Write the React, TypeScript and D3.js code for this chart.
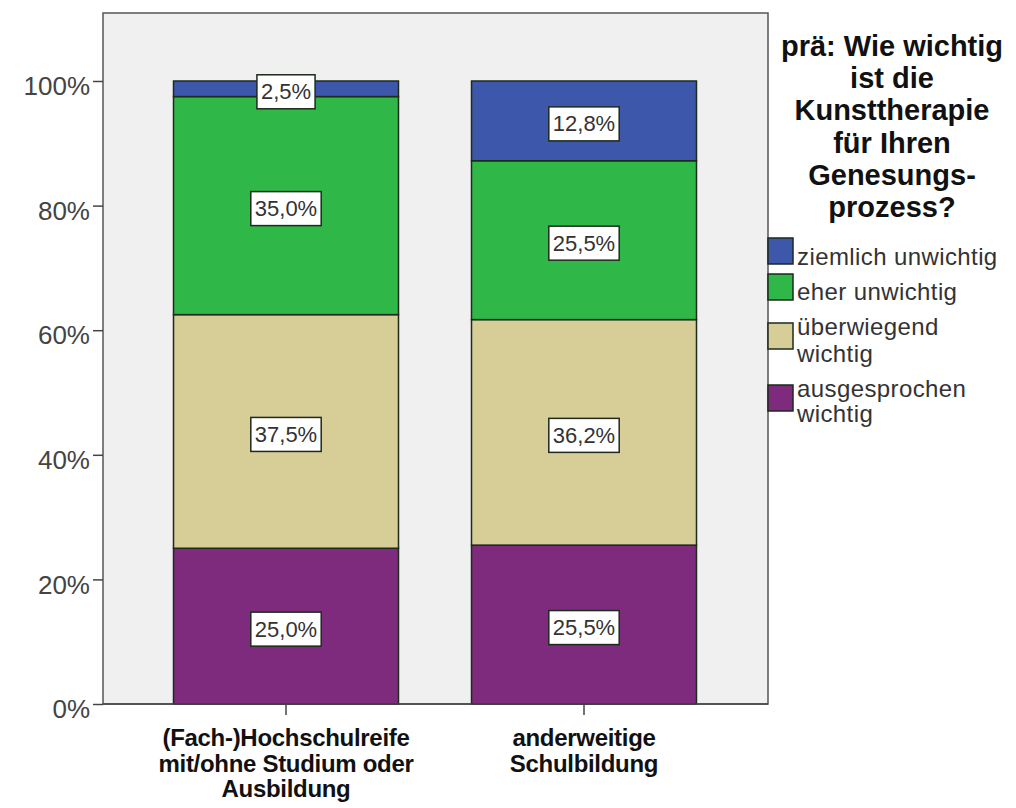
import React, { useEffect, useRef } from "react";
import * as d3 from "d3";

// categories on the x axis (each is a list of lines)
const groups = ["g1", "g2"];
const groupLabels = [
  ["(Fach-)Hochschulreife", "mit/ohne Studium oder", "Ausbildung"],
  ["anderweitige", "Schulbildung"],
];

// stack order bottom -> top
const seriesKeys = ["ausgesprochen", "ueberwiegend", "eher", "ziemlich"];
const seriesNames = [
  ["ausgesprochen", "wichtig"],
  ["überwiegend", "wichtig"],
  ["eher unwichtig"],
  ["ziemlich unwichtig"],
];
const seriesColors = ["#7e2a7d", "#d6cd97", "#2fb848", "#3d58ab"];

// percent values per group
const ausgesprochen = [25.0, 25.5];
const ueberwiegend = [37.5, 36.2];
const eher = [35.0, 25.5];
const ziemlich = [2.5, 12.8];

const yTicks = [0, 20, 40, 60, 80, 100];
const legendTitle = [
  "prä: Wie wichtig",
  "ist die",
  "Kunsttherapie",
  "für Ihren",
  "Genesungs-",
  "prozess?",
];

function App() {
  const svgRef = useRef<SVGSVGElement>(null);

  useEffect(() => {
    const width = 1016;
    const height = 808;
    const svg = d3.select(svgRef.current).attr("width", width).attr("height", height);
    svg.selectAll("*").remove();

    const left = 103, right = 768, top = 13, bottom = 704;
    const font = "'Liberation Sans', Arial, sans-serif";

    svg.append("rect").attr("width", width).attr("height", height).attr("fill", "#fff");

    // plot frame
    svg.append("rect")
      .attr("x", left).attr("y", top)
      .attr("width", right - left).attr("height", bottom - top)
      .attr("fill", "#f0f0f0")
      .attr("stroke", "#555").attr("stroke-width", 1.5);

    const x = d3.scaleBand<string>()
      .domain(groups)
      .range([137, 733])
      .paddingInner(0.245)
      .paddingOuter(0.1225);

    const y = d3.scaleLinear().domain([0, 100]).range([bottom, 81]);

    const rows = groups.map((g, i) => ({
      group: g,
      ausgesprochen: ausgesprochen[i],
      ueberwiegend: ueberwiegend[i],
      eher: eher[i],
      ziemlich: ziemlich[i],
    }));
    const stacked = d3.stack<any>().keys(seriesKeys)(rows);

    // bars
    stacked.forEach((layer, li) => {
      svg.append("g")
        .selectAll("rect")
        .data(layer)
        .join("rect")
        .attr("x", (d) => x(d.data.group)!)
        .attr("width", x.bandwidth())
        .attr("y", (d) => y(d[1]))
        .attr("height", (d) => y(d[0]) - y(d[1]))
        .attr("fill", seriesColors[li])
        .attr("stroke", "#1d2a1d")
        .attr("stroke-width", 1.5);
    });

    // value labels
    stacked.forEach((layer) => {
      layer.forEach((d) => {
        const v = d[1] - d[0];
        const txt = v.toFixed(1).replace(".", ",") + "%";
        const cx = x(d.data.group)! + x.bandwidth() / 2;
        const cy = (y(d[0]) + y(d[1])) / 2 + 3;
        const g = svg.append("g");
        const t = g.append("text")
          .attr("x", cx).attr("y", cy)
          .attr("text-anchor", "middle")
          .attr("dominant-baseline", "central")
          .attr("font-family", font)
          .attr("font-size", 22)
          .attr("fill", "#333")
          .text(txt);
        const w = (t.node() as SVGTextElement).getComputedTextLength() + 8;
        g.insert("rect", "text")
          .attr("x", cx - w / 2).attr("y", cy - 17)
          .attr("width", w).attr("height", 34)
          .attr("fill", "#fff")
          .attr("stroke", "#1d2a1d").attr("stroke-width", 1.5);
      });
    });

    // y axis
    const yAxis = d3.axisLeft(y)
      .tickValues(yTicks)
      .tickSize(10)
      .tickPadding(3)
      .tickFormat((d) => `${d}%`);
    const ya = svg.append("g").attr("transform", `translate(${left},0)`).call(yAxis);
    ya.select(".domain").remove();
    ya.selectAll("line").attr("stroke", "#444").attr("stroke-width", 1.5);
    ya.selectAll("text")
      .attr("font-family", font)
      .attr("font-size", 26)
      .attr("fill", "#444")
      .attr("dy", "0.72em")
      .attr("y", -5);

    // x axis
    const xAxis = d3.axisBottom(x).tickSize(11).tickFormat(() => "");
    const xa = svg.append("g").attr("transform", `translate(0,${bottom})`).call(xAxis);
    xa.select(".domain").remove();
    xa.selectAll("line").attr("stroke", "#444").attr("stroke-width", 1.5);
    svg.append("line")
      .attr("x1", left).attr("x2", right)
      .attr("y1", bottom).attr("y2", bottom)
      .attr("stroke", "#444").attr("stroke-width", 1.5);

    groups.forEach((g, i) => {
      const cx = x(g)! + x.bandwidth() / 2;
      groupLabels[i].forEach((line, j) => {
        svg.append("text")
          .attr("x", cx).attr("y", 746 + j * 25.5)
          .attr("text-anchor", "middle")
          .attr("font-family", font)
          .attr("font-weight", "bold")
          .attr("font-size", 24)
          .attr("letter-spacing", -0.3)
          .attr("fill", "#111")
          .text(line);
      });
    });

    // legend title
    legendTitle.forEach((line, i) => {
      svg.append("text")
        .attr("x", 892).attr("y", 56 + i * 32.2)
        .attr("text-anchor", "middle")
        .attr("font-family", font)
        .attr("font-weight", "bold")
        .attr("font-size", 29)
        .attr("fill", "#111")
        .text(line);
    });

    // legend items, top -> bottom
    const legendOrder = [3, 2, 1, 0];
    const swatchY = [238, 274, 323, 385];
    const textY = [[265], [300], [335, 362], [397, 422]];
    legendOrder.forEach((si, k) => {
      svg.append("rect")
        .attr("x", 768).attr("y", swatchY[k])
        .attr("width", 25).attr("height", 26)
        .attr("fill", seriesColors[si])
        .attr("stroke", "#1d2a1d").attr("stroke-width", 1.5);
      seriesNames[si].forEach((line, j) => {
        svg.append("text")
          .attr("x", 797).attr("y", textY[k][j])
          .attr("font-family", font)
          .attr("font-size", 24)
          .attr("letter-spacing", 0.4)
          .attr("fill", "#333")
          .text(line);
      });
    });
  }, []);

  return (
    <div style={{ position: "absolute", left: 0, top: 0 }}>
      <svg ref={svgRef}></svg>
    </div>
  );
}

export default App;
